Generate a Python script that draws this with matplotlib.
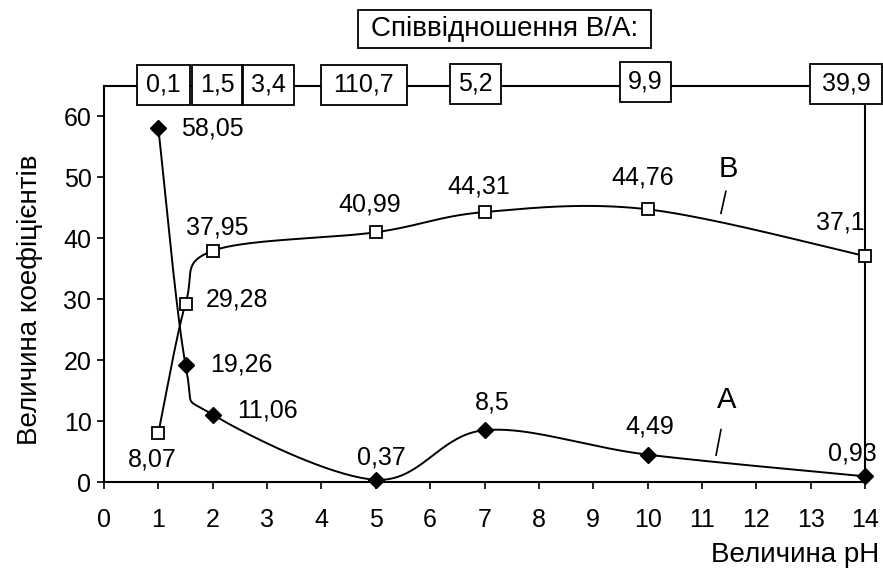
import numpy as np
import matplotlib
matplotlib.use('Agg')
import matplotlib.pyplot as plt
from matplotlib.patches import Rectangle
from matplotlib.transforms import IdentityTransform

plt.rcParams['font.family'] = ['Liberation Sans', 'DejaVu Sans']

# data
ph = [1, 1.5, 2, 5, 7, 10, 14]
coef_a = [58.05, 19.26, 11.06, 0.37, 8.5, 4.49, 0.93]
coef_b = [8.07, 29.28, 37.95, 40.99, 44.31, 44.76, 37.1]
labels_a = ['58,05', '19,26', '11,06', '0,37', '8,5', '4,49', '0,93']
labels_b = ['8,07', '29,28', '37,95', '40,99', '44,31', '44,76', '37,1']
ratio_labels = ['0,1', '1,5', '3,4', '110,7', '5,2', '9,9', '39,9']

# label offsets in pixels (dx, dy, ha)
off_a = [(23, 0, 'left'), (25, 0, 'left'), (24, 4, 'left'), (6, 22, 'center'),
         (8, 28, 'center'), (2, 28, 'center'), (-13, 23, 'center')]
off_b = [(-6, -27, 'center'), (20, 4, 'left'), (5, 23, 'center'), (-6, 28, 'center'),
         (-6, 26, 'center'), (-5, 32, 'center'), (-25, 33, 'center')]
# ratio box centres (x in data units, y offset in px above the top spine, half-width pad)
ratio_x = [1.095, 2.08, 3.02, 4.78, 6.84, 9.96, 13.65]
ratio_dy = [1, 1, 1, 1, 2, 4, 2]
ratio_padx = [9, 8, 8, 13, 8, 8, 12]


def smooth(x, y, n=40):
    # excel-like smoothed line: catmull-rom as cubic bezier
    p = np.column_stack([x, y]).astype(float)
    p = np.vstack([p[0], p, p[-1]])
    out = []
    t = np.linspace(0, 1, n)[:, None]
    for i in range(1, len(p) - 2):
        p0, p1, p2, p3 = p[i - 1], p[i], p[i + 1], p[i + 2]
        c1 = p1 + (p2 - p0) / 6
        c2 = p2 - (p3 - p1) / 6
        seg = ((1 - t) ** 3) * p1 + 3 * ((1 - t) ** 2) * t * c1 + 3 * (1 - t) * t ** 2 * c2 + t ** 3 * p2
        out.append(seg)
    out = np.vstack(out)
    return out[:, 0], out[:, 1]


fig = plt.figure(figsize=(8.83, 5.74), dpi=100)
ax = fig.add_axes([104 / 883, 1 - 482 / 574, (865 - 104) / 883, (482 - 86) / 574])

fs = 18
sx, sy = smooth(ph, coef_a)
ax.plot(sx, sy, color='black', lw=1.4, zorder=2)
sx, sy = smooth(ph, coef_b)
ax.plot(sx, sy, color='black', lw=1.4, zorder=2)
ax.plot(ph, coef_a, ls='none', marker='D', ms=8.5, color='black', zorder=3, clip_on=False)
ax.plot(ph, coef_b, ls='none', marker='s', ms=8.5, mfc='white', mec='black', mew=1.3,
        zorder=3, clip_on=False)

for x, y, s, (dx, dy, ha) in zip(ph, coef_a, labels_a, off_a):
    ax.annotate(s, (x, y), xytext=(dx, dy), textcoords='offset pixels', ha=ha, va='center',
                fontsize=fs, zorder=4)
for x, y, s, (dx, dy, ha) in zip(ph, coef_b, labels_b, off_b):
    ax.annotate(s, (x, y), xytext=(dx, dy), textcoords='offset pixels', ha=ha, va='center',
                fontsize=fs, zorder=4)

# curve names with small leader strokes
ax.text(11.48, 51.3, 'B', fontsize=21, ha='center', va='center')
ax.plot([11.35, 11.44], [44.1, 47.7], color='black', lw=1.2)
ax.text(11.46, 13.5, 'A', fontsize=21, ha='center', va='center')
ax.plot([11.26, 11.35], [4.4, 8.6], color='black', lw=1.2)

ax.set_xlim(0, 14)
ax.set_ylim(0, 65)
ax.set_xticks(range(0, 15))
ax.set_yticks(range(0, 61, 10))
ax.tick_params(direction='out', length=5, width=1.2, labelsize=fs)
ax.tick_params(axis='x', pad=14)
ax.tick_params(axis='y', pad=4)
for sp in ax.spines.values():
    sp.set_linewidth(1.5)

fig.text(30 / 883, 1 - 300 / 574, 'Величина коефіцієнтів', rotation=90, fontsize=20,
         ha='center', va='center')
fig.text(879 / 883, 1 - 555 / 574, 'Величина pH', fontsize=20, ha='right', va='center')

# ratio texts sitting on the top spine, boxes drawn around them later
boxed = []
for x, dy, s, px in zip(ratio_x, ratio_dy, ratio_labels, ratio_padx):
    cx, cy = ax.transData.transform((x, 65))
    t = fig.text(cx, cy + dy, s, fontsize=fs, ha='center', va='center',
                 transform=IdentityTransform(), zorder=6)
    boxed.append((t, px, 8))
t = fig.text((357 + 652) / 2 / 883, 1 - 29 / 574, 'Співвідношення В/А:', fontsize=20,
             ha='center', va='center', zorder=6)
boxed.append((t, 13, 6))

fig.canvas.draw()
renderer = fig.canvas.get_renderer()
for t, px, py in boxed:
    bb = t.get_window_extent(renderer)
    fig.add_artist(Rectangle((bb.x0 - px, bb.y0 - py), bb.width + 2 * px, bb.height + 2 * py,
                             transform=IdentityTransform(), fc='white', ec='black', lw=1.3,
                             zorder=5))

fig.savefig('out.png', dpi=100)
